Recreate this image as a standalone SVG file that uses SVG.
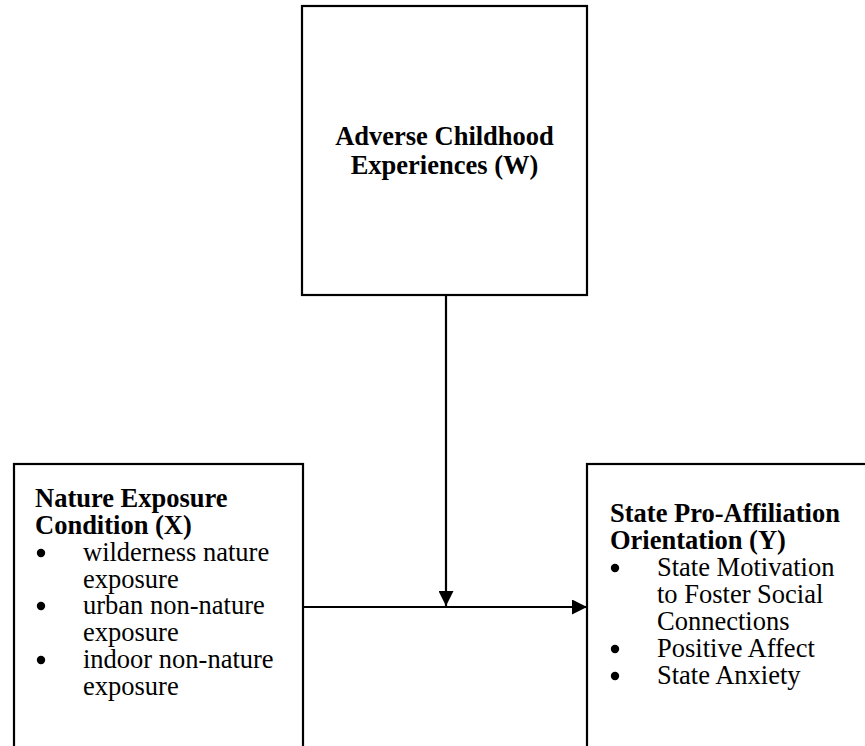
<svg xmlns="http://www.w3.org/2000/svg" width="865" height="746" viewBox="0 0 865 746">
  <style>
    .box { fill: #ffffff; stroke: #000000; stroke-width: 2.2; }
    .title { font-family: "Liberation Serif", "Times New Roman", serif; font-size: 26.5px; font-weight: bold; fill: #000; }
    .body { font-family: "Liberation Serif", "Times New Roman", serif; font-size: 26.5px; fill: #000; }
    .conn { stroke: #000; stroke-width: 2.2; fill: none; }
  </style>
  <defs>
    <marker id="arrow" viewBox="0 0 15 15" refX="15" refY="7.5" markerWidth="15" markerHeight="15" markerUnits="userSpaceOnUse" orient="auto">
      <path d="M0,0 L15,7.5 L0,15 Z" fill="#000"/>
    </marker>
  </defs>
  <rect width="865" height="746" fill="#ffffff"/>

  <g id="node-w">
    <rect class="box" x="302" y="6" width="285" height="289"/>
    <text class="title" x="444.5" y="145" text-anchor="middle">Adverse Childhood</text>
    <text class="title" x="444.5" y="174" text-anchor="middle">Experiences (W)</text>
  </g>

  <g id="node-x">
    <rect class="box" x="14" y="464" width="289" height="300"/>
    <text class="title" x="35" y="507">Nature Exposure</text>
    <text class="title" x="35" y="534">Condition (X)</text>
    <circle cx="41" cy="553" r="4.2"/>
    <text class="body" x="83" y="561">wilderness nature</text>
    <text class="body" x="83" y="588">exposure</text>
    <circle cx="41" cy="606" r="4.2"/>
    <text class="body" x="83" y="614">urban non-nature</text>
    <text class="body" x="83" y="641">exposure</text>
    <circle cx="41" cy="660" r="4.2"/>
    <text class="body" x="83" y="668">indoor non-nature</text>
    <text class="body" x="83" y="695">exposure</text>
  </g>

  <g id="node-y">
    <rect class="box" x="587" y="464" width="300" height="300"/>
    <text class="title" x="610" y="522">State Pro-Affiliation</text>
    <text class="title" x="610" y="549">Orientation (Y)</text>
    <circle cx="615" cy="568" r="4.2"/>
    <text class="body" x="657" y="576">State Motivation</text>
    <text class="body" x="657" y="603">to Foster Social</text>
    <text class="body" x="657" y="630">Connections</text>
    <circle cx="615" cy="649" r="4.2"/>
    <text class="body" x="657" y="657">Positive Affect</text>
    <circle cx="615" cy="676" r="4.2"/>
    <text class="body" x="657" y="684">State Anxiety</text>
  </g>

  <g id="connectors">
    <line class="conn" x1="446" y1="295" x2="446" y2="606" marker-end="url(#arrow)"/>
    <line class="conn" x1="303" y1="607" x2="587" y2="607" marker-end="url(#arrow)"/>
  </g>
</svg>
